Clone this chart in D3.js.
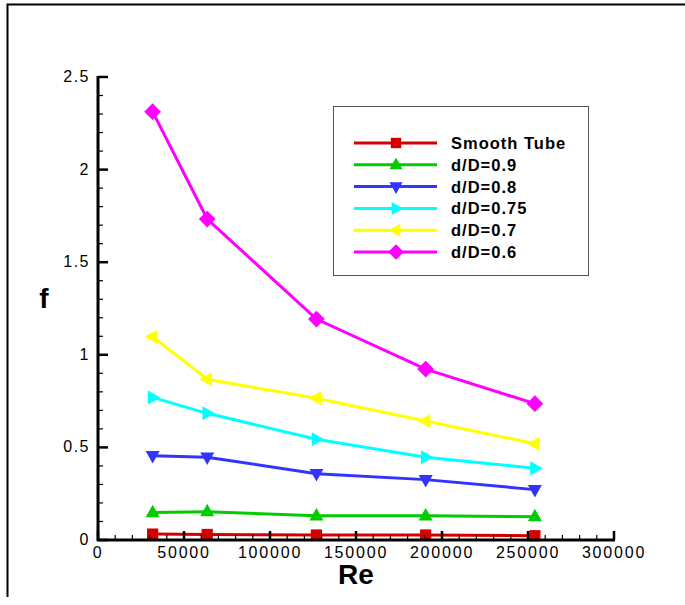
<!DOCTYPE html>
<html>
<head>
<meta charset="utf-8">
<script src="https://cdn.jsdelivr.net/npm/d3@7"></script>
<style>
body { margin: 0; background: #fff; }
svg { display: block; font-family: "Liberation Sans", Arial, sans-serif; }
</style>
</head>
<body>
<svg width="685" height="605"></svg>
<script>
// data
var re = [31750, 63500, 127000, 190500, 254000];
var names = ["Smooth Tube", "d/D=0.9", "d/D=0.8", "d/D=0.75", "d/D=0.7", "d/D=0.6"];
var smooth = [0.032, 0.030, 0.027, 0.027, 0.023];
var d09 = [0.148, 0.153, 0.131, 0.131, 0.126];
var d08 = [0.455, 0.447, 0.358, 0.326, 0.272];
var d075 = [0.770, 0.684, 0.544, 0.447, 0.387];
var d07 = [1.098, 0.868, 0.765, 0.643, 0.520];
var d06 = [2.313, 1.733, 1.193, 0.923, 0.736];
var colors = ["#d40000", "#00cc00", "#3333ff", "#00ffff", "#ffff00", "#ff00ff"];
var shapes = ["square", "up", "down", "right", "left", "diamond"];
var xTicks = [0, 50000, 100000, 150000, 200000, 250000, 300000];
var yTicks = [0, 0.5, 1, 1.5, 2, 2.5];

var series = [smooth, d09, d08, d075, d07, d06];

var svg = d3.select("svg");

// outer frame (top and left)
svg.append("path")
	.attr("d", "M7.5,597 V4.5 H685")
	.attr("fill", "none")
	.attr("stroke", "#000")
	.attr("stroke-width", 2);

var x = d3.scaleLinear().domain([0, 300000]).range([98, 614]),
	y = d3.scaleLinear().domain([0, 2.5]).range([540, 77]);

function marker(shape, s) {
	var h = s / 2;
	if (shape == "square") { h = s * 0.4; return "M" + (-h) + "," + (-h) + "h" + 2 * h + "v" + 2 * h + "h" + (-2 * h) + "Z"; }
	if (shape == "diamond") { h = s * 0.6; return "M0," + (-h) + "L" + h + ",0L0," + h + "L" + (-h) + ",0Z"; }
	var a = s * 0.56, b = s * 0.5;
	if (shape == "up") return "M0," + (-a) + "L" + b + "," + (a * 0.6) + "L" + (-b) + "," + (a * 0.6) + "Z";
	if (shape == "down") return "M0," + a + "L" + b + "," + (-a * 0.6) + "L" + (-b) + "," + (-a * 0.6) + "Z";
	if (shape == "right") return "M" + a + ",0L" + (-a * 0.6) + "," + b + "L" + (-a * 0.6) + "," + (-b) + "Z";
	return "M" + (-a) + ",0L" + (a * 0.6) + "," + b + "L" + (a * 0.6) + "," + (-b) + "Z";
}

var line = d3.line()
	.x(function(d, i) { return x(re[i]); })
	.y(function(d) { return y(d); });

var g = svg.append("g");
series.forEach(function(vals, k) {
	g.append("path")
		.attr("d", line(vals))
		.attr("fill", "none")
		.attr("stroke", colors[k])
		.attr("stroke-width", 3);
	g.selectAll(".m" + k)
		.data(vals)
		.enter().append("path")
		.attr("class", "m" + k)
		.attr("transform", function(d, i) { return "translate(" + x(re[i]) + "," + y(d) + ")"; })
		.attr("d", marker(shapes[k], 14))
		.attr("fill", colors[k]);
});

// axes, ticks pointing inward
var xAxis = svg.append("g").attr("transform", "translate(0,540)");
xAxis.append("line").attr("x1", 97).attr("x2", 615).attr("stroke", "#000").attr("stroke-width", 3);
xAxis.selectAll(".minor")
	.data(d3.range(0, 300001, 10000))
	.enter().append("line")
	.attr("x1", function(d) { return x(d); })
	.attr("x2", function(d) { return x(d); })
	.attr("y1", 0)
	.attr("y2", function(d) { return d % 50000 == 0 ? -9 : -5; })
	.attr("stroke", "#000")
	.attr("stroke-width", function(d) { return d % 50000 == 0 ? 2.5 : 1.2; });
xAxis.selectAll("text")
	.data(xTicks)
	.enter().append("text")
	.attr("x", function(d) { return x(d); })
	.attr("y", 17.5)
	.attr("text-anchor", "middle")
	.attr("font-size", 16)
	.attr("letter-spacing", 1.8)
	.text(function(d) { return d; });

var yAxis = svg.append("g").attr("transform", "translate(98,0)");
yAxis.append("line").attr("y1", 76).attr("y2", 541).attr("stroke", "#000").attr("stroke-width", 3);
yAxis.selectAll(".minor")
	.data(d3.range(0, 26).map(function(i) { return i / 10; }))
	.enter().append("line")
	.attr("y1", function(d) { return y(d); })
	.attr("y2", function(d) { return y(d); })
	.attr("x1", 0)
	.attr("x2", function(d, i) { return i % 5 == 0 ? 10 : 5; })
	.attr("stroke", "#000")
	.attr("stroke-width", function(d, i) { return i % 5 == 0 ? 2.5 : 1.2; });
yAxis.selectAll("text")
	.data(yTicks)
	.enter().append("text")
	.attr("x", -8)
	.attr("y", function(d) { return y(d) + 5; })
	.attr("text-anchor", "end")
	.attr("font-size", 16)
	.attr("letter-spacing", 1.5)
	.text(function(d) { return d; });

svg.append("text")
	.attr("x", 356)
	.attr("y", 584)
	.attr("text-anchor", "middle")
	.attr("font-size", 28)
	.attr("font-weight", "bold")
	.text("Re");

svg.append("text")
	.attr("x", 44)
	.attr("y", 308)
	.attr("text-anchor", "middle")
	.attr("font-size", 28)
	.attr("font-weight", "bold")
	.text("f");

// legend
var lg = svg.append("g");
lg.append("rect")
	.attr("x", 333.5).attr("y", 106.5)
	.attr("width", 255).attr("height", 169)
	.attr("fill", "#fff")
	.attr("stroke", "#555")
	.attr("stroke-width", 1);
names.forEach(function(n, k) {
	var ly = 143 + k * 21.8;
	lg.append("line")
		.attr("x1", 354).attr("x2", 437)
		.attr("y1", ly).attr("y2", ly)
		.attr("stroke", colors[k])
		.attr("stroke-width", 3);
	lg.append("path")
		.attr("transform", "translate(396," + ly + ")")
		.attr("d", marker(shapes[k], 13))
		.attr("fill", colors[k]);
	lg.append("text")
		.attr("x", 451)
		.attr("y", ly + 6)
		.attr("font-size", 16.5)
		.attr("font-weight", "bold")
		.attr("letter-spacing", 1)
		.text(n);
});
</script>
</body>
</html>
